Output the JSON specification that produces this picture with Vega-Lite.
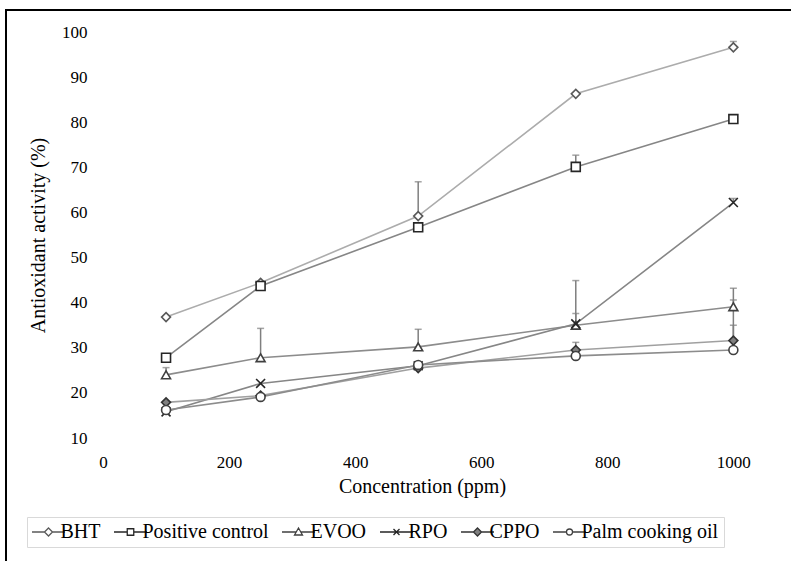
{
  "$schema": "https://vega.github.io/schema/vega-lite/v6.json",
  "width": 787,
  "height": 553,
  "autosize": {"type": "none"},
  "padding": {"left": 6, "top": 10, "right": -2, "bottom": -2},
  "background": "white",
  "config": {
    "view": {"stroke": "#000000", "strokeWidth": 2},
    "font": "Liberation Serif",
    "axis": {"labelFont": "Liberation Serif", "titleFont": "Liberation Serif", "labelColor": "#000000", "titleColor": "#000000", "titleFontWeight": "normal", "domain": false, "ticks": false, "tickSize": 0, "grid": false, "labelFontSize": 17, "titleFontSize": 20, "labelFlush": false},
    "legend": {"labelFont": "Liberation Serif", "labelFontSize": 20, "labelColor": "#000000"}
  },
  "data": {
    "values": [
      {"series": "BHT", "conc": 100, "val": 36.8},
      {"series": "BHT", "conc": 250, "val": 44.4},
      {"series": "BHT", "conc": 500, "val": 59.2, "top": 66.8},
      {"series": "BHT", "conc": 750, "val": 86.3},
      {"series": "BHT", "conc": 1000, "val": 96.6, "top": 97.9},
      {"series": "Positive control", "conc": 100, "val": 27.8},
      {"series": "Positive control", "conc": 250, "val": 43.7},
      {"series": "Positive control", "conc": 500, "val": 56.7},
      {"series": "Positive control", "conc": 750, "val": 70.1, "top": 72.7},
      {"series": "Positive control", "conc": 1000, "val": 80.7},
      {"series": "EVOO", "conc": 100, "val": 24.0, "top": 25.6},
      {"series": "EVOO", "conc": 250, "val": 27.8, "top": 34.3},
      {"series": "EVOO", "conc": 500, "val": 30.2, "top": 34.1},
      {"series": "EVOO", "conc": 750, "val": 35.0, "top": 44.9},
      {"series": "EVOO", "conc": 1000, "val": 39.1, "top": 43.2},
      {"series": "RPO", "conc": 100, "val": 15.8},
      {"series": "RPO", "conc": 250, "val": 22.1},
      {"series": "RPO", "conc": 500, "val": 26.0},
      {"series": "RPO", "conc": 750, "val": 35.3, "top": 37.6},
      {"series": "RPO", "conc": 1000, "val": 62.2, "top": 63.1},
      {"series": "CPPO", "conc": 100, "val": 17.9},
      {"series": "CPPO", "conc": 250, "val": 19.4},
      {"series": "CPPO", "conc": 500, "val": 25.5},
      {"series": "CPPO", "conc": 750, "val": 29.5, "top": 31.2},
      {"series": "CPPO", "conc": 1000, "val": 31.6, "top": 40.6},
      {"series": "Palm cooking oil", "conc": 100, "val": 16.2},
      {"series": "Palm cooking oil", "conc": 250, "val": 19.1},
      {"series": "Palm cooking oil", "conc": 500, "val": 26.2},
      {"series": "Palm cooking oil", "conc": 750, "val": 28.2},
      {"series": "Palm cooking oil", "conc": 1000, "val": 29.5, "top": 35.0}
    ]
  },
  "encoding": {
    "x": {"field": "conc", "type": "quantitative", "scale": {"domain": [-153.9, 1094.6], "nice": false, "zero": false}},
    "y": {"field": "val", "type": "quantitative", "scale": {"domain": [-17.71, 104.88], "nice": false, "zero": false}}
  },
  "layer": [
    {
      "data": {"values": [{}]},
      "mark": {"type": "rule", "color": "#d0d0d0", "strokeWidth": 1.3},
      "encoding": {"x": {"datum": 0}, "y": {"datum": 10}, "y2": {"datum": 100}}
    },
    {
      "data": {"values": [{}]},
      "mark": {"type": "rule", "color": "#d0d0d0", "strokeWidth": 1.3},
      "encoding": {"x": {"datum": 0}, "x2": {"datum": 1050}, "y": {"datum": 10}}
    },
    {
      "mark": {"type": "line", "strokeWidth": 1.6},
      "encoding": {
        "color": {"field": "series", "type": "nominal", "legend": null,
          "scale": {"domain": ["Palm cooking oil", "CPPO", "RPO", "EVOO", "Positive control", "BHT"],
                    "range": ["#8c8c8c", "#a0a0a0", "#868686", "#8c8c8c", "#868686", "#acacac"]}},
        "detail": {"field": "series"}
      }
    },
    {
      "transform": [{"filter": "isValid(datum.top)"}],
      "mark": {"type": "rule", "color": "#7f7f7f", "strokeWidth": 1.5},
      "encoding": {
        "y": {"field": "val", "type": "quantitative"},
        "y2": {"field": "top"}
      }
    },
    {
      "transform": [{"filter": "isValid(datum.top)"}],
      "mark": {"type": "point", "shape": "stroke", "size": 49, "color": "#7f7f7f", "strokeWidth": 1.5},
      "encoding": {
        "y": {"field": "top", "type": "quantitative"}
      }
    },
    {
      "mark": {"type": "point", "filled": true, "size": 80, "strokeWidth": 1.6, "opacity": 1},
      "encoding": {
        "x": {"field": "conc", "type": "quantitative",
          "axis": {"values": [0, 200, 400, 600, 800, 1000], "format": "d", "offset": -123, "labelPadding": 14, "title": "Concentration (ppm)", "titleX": 416, "titleY": 46, "titleBaseline": "middle", "titleAlign": "center"}},
        "y": {"field": "val", "type": "quantitative",
          "axis": {"values": [10, 20, 30, 40, 50, 60, 70, 80, 90, 100], "offset": -97, "labelPadding": 16, "title": "Antioxidant activity (%)", "titleX": -65, "titleY": 225, "titleBaseline": "middle", "titleAngle": -90, "titleAlign": "center"}},
        "shape": {"field": "series", "type": "nominal", "legend": null,
          "scale": {"domain": ["Palm cooking oil", "CPPO", "RPO", "EVOO", "Positive control", "BHT"],
                    "range": ["circle", "diamond", "M-1,-1L1,1M-1,1L1,-1", "triangle-up", "square", "diamond"]}},
        "stroke": {"field": "series", "type": "nominal",
          "scale": {"domain": ["BHT", "Positive control", "EVOO", "RPO", "CPPO", "Palm cooking oil"],
                    "range": ["#595959", "#262626", "#404040", "#262626", "#333333", "#404040"]},
          "legend": {"title": null, "orient": "none", "legendX": 21, "legendY": 507, "direction": "horizontal",
            "strokeColor": "#d9d9d9", "fillColor": "white", "padding": 5, "columnPadding": 10,
            "labelFont": "Liberation Serif", "labelFontSize": 20, "labelColor": "#000000", "labelLimit": 300,
            "symbolSize": 100, "symbolStrokeWidth": 1.3, "symbolOffset": 6.5, "labelOffset": 2,
            "symbolType": {"expr": "datum.value === 'BHT' || datum.value === 'CPPO' ? 'M-3.3,0L-0.8,0M0.8,0L3.3,0M0,-0.8L0.8,0L0,0.8L-0.8,0Z' : datum.value === 'Positive control' ? 'M-3.3,0L-0.65,0M0.65,0L3.3,0M-0.65,-0.65L0.65,-0.65L0.65,0.65L-0.65,0.65Z' : datum.value === 'EVOO' ? 'M-3.3,0L-0.46,0M0.46,0L3.3,0M0,-0.8L0.8,0.6L-0.8,0.6Z' : datum.value === 'RPO' ? 'M-3.3,0L3.3,0M-0.6,-0.6L0.6,0.6M-0.6,0.6L0.6,-0.6' : 'M-3.3,0L-0.6,0M0.6,0L3.3,0M0.6,0A0.6,0.6,0,1,1,-0.6,0A0.6,0.6,0,1,1,0.6,0Z'"}}},
        "fill": {"field": "series", "type": "nominal",
          "scale": {"domain": ["BHT", "Positive control", "EVOO", "RPO", "CPPO", "Palm cooking oil"],
                    "range": ["#ffffff", "#ffffff", "#ffffff", "#ffffff", "#808080", "#ffffff"]},
          "legend": {"title": null, "orient": "none", "legendX": 21, "legendY": 507, "direction": "horizontal",
            "strokeColor": "#d9d9d9", "fillColor": "white", "padding": 5, "columnPadding": 10,
            "labelFont": "Liberation Serif", "labelFontSize": 20, "labelColor": "#000000", "labelLimit": 300,
            "symbolSize": 100, "symbolStrokeWidth": 1.3, "symbolOffset": 6.5, "labelOffset": 2,
            "symbolType": {"expr": "datum.value === 'BHT' || datum.value === 'CPPO' ? 'M-3.3,0L-0.8,0M0.8,0L3.3,0M0,-0.8L0.8,0L0,0.8L-0.8,0Z' : datum.value === 'Positive control' ? 'M-3.3,0L-0.65,0M0.65,0L3.3,0M-0.65,-0.65L0.65,-0.65L0.65,0.65L-0.65,0.65Z' : datum.value === 'EVOO' ? 'M-3.3,0L-0.46,0M0.46,0L3.3,0M0,-0.8L0.8,0.6L-0.8,0.6Z' : datum.value === 'RPO' ? 'M-3.3,0L3.3,0M-0.6,-0.6L0.6,0.6M-0.6,0.6L0.6,-0.6' : 'M-3.3,0L-0.6,0M0.6,0L3.3,0M0.6,0A0.6,0.6,0,1,1,-0.6,0A0.6,0.6,0,1,1,0.6,0Z'"}}}
      }
    }
  ]
}
